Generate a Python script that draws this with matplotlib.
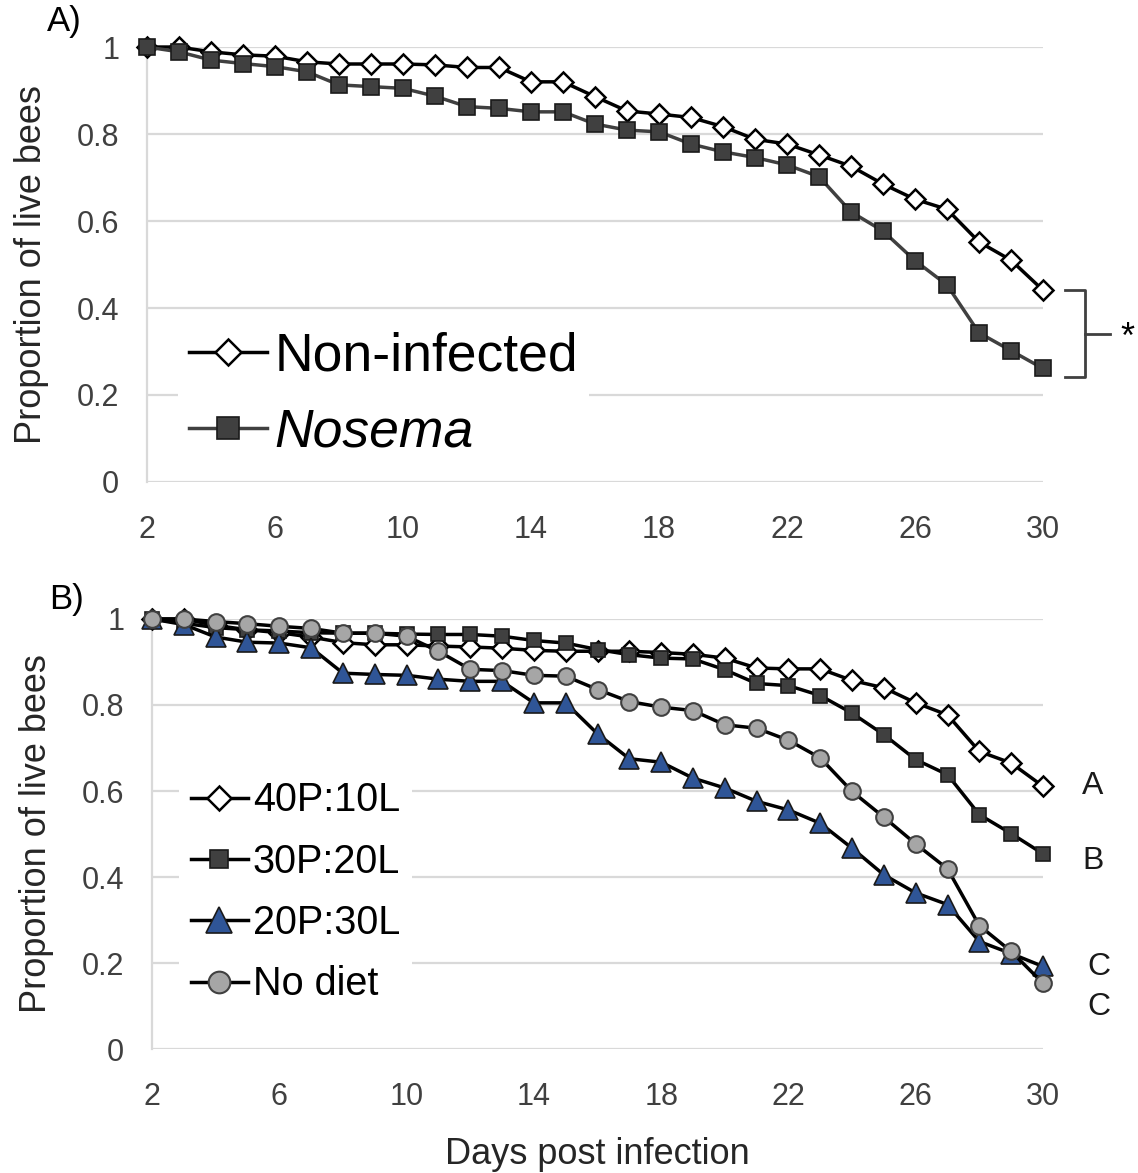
import matplotlib
matplotlib.use("Agg")
import matplotlib.pyplot as plt

plt.rcParams["font.family"] = "Liberation Sans"

days = list(range(2, 31))

# panel A: infection status
non_infected = [1.0, 1.0, 0.989, 0.982, 0.979, 0.966, 0.961, 0.961, 0.961, 0.959,
                0.953, 0.953, 0.920, 0.920, 0.886, 0.853, 0.846, 0.838, 0.817, 0.788,
                0.777, 0.752, 0.726, 0.685, 0.650, 0.627, 0.552, 0.510, 0.441]
nosema = [1.0, 0.989, 0.970, 0.962, 0.955, 0.943, 0.913, 0.909, 0.905, 0.887,
          0.863, 0.859, 0.851, 0.851, 0.823, 0.809, 0.805, 0.777, 0.759, 0.746,
          0.729, 0.702, 0.621, 0.577, 0.509, 0.453, 0.343, 0.302, 0.261]

# panel B: diet protein:lipid ratios
p40_l10 = [1.0, 1.0, 0.985, 0.975, 0.968, 0.958, 0.945, 0.940, 0.940, 0.937,
           0.935, 0.932, 0.927, 0.925, 0.925, 0.925, 0.922, 0.918, 0.909, 0.886,
           0.884, 0.884, 0.857, 0.840, 0.805, 0.777, 0.692, 0.665, 0.611]
p30_l20 = [1.0, 0.990, 0.980, 0.975, 0.972, 0.968, 0.967, 0.967, 0.965, 0.964,
           0.964, 0.960, 0.950, 0.944, 0.929, 0.917, 0.909, 0.907, 0.882, 0.850,
           0.845, 0.822, 0.781, 0.731, 0.673, 0.638, 0.545, 0.501, 0.454]
p20_l30 = [1.0, 0.987, 0.958, 0.946, 0.944, 0.933, 0.874, 0.871, 0.869, 0.860,
           0.855, 0.855, 0.805, 0.805, 0.733, 0.675, 0.667, 0.630, 0.607, 0.576,
           0.556, 0.525, 0.467, 0.405, 0.363, 0.336, 0.250, 0.222, 0.192]
no_diet = [1.0, 1.0, 0.994, 0.989, 0.983, 0.978, 0.967, 0.967, 0.960, 0.925,
           0.883, 0.880, 0.869, 0.867, 0.836, 0.808, 0.795, 0.787, 0.754, 0.746,
           0.718, 0.677, 0.599, 0.539, 0.477, 0.419, 0.287, 0.227, 0.153]

letters_b = ["A", "B", "C", "C"]

xticks = list(range(2, 31, 4))
yticks = [0, 0.2, 0.4, 0.6, 0.8, 1]
ytick_labels = ["0", "0.2", "0.4", "0.6", "0.8", "1"]

grid_col = "#d9d9d9"

fig = plt.figure(figsize=(11.38, 11.73), dpi=100)
axA = fig.add_axes([0.1292, 0.5891, 0.7873, 0.3708])
axB = fig.add_axes([0.1336, 0.1057, 0.7829, 0.3666])


def style_axis(ax):
    ax.set_xlim(2, 30)
    ax.set_ylim(0, 1)
    ax.set_xticks(xticks)
    ax.set_yticks(yticks)
    ax.set_yticklabels(ytick_labels)
    ax.tick_params(length=0, labelsize=22, colors="#404040", pad=20)
    ax.tick_params(axis="x", pad=24)
    ax.grid(axis="y", color=grid_col, lw=1.6, zorder=0)
    for s in ["top", "right", "bottom"]:
        ax.spines[s].set_visible(False)
    ax.spines["left"].set_color(grid_col)
    ax.spines["left"].set_linewidth(1.6)
    ax.set_ylabel("Proportion of live bees", fontsize=26, color="#262626", labelpad=20)


style_axis(axA)
style_axis(axB)

# --- A) infected vs non-infected
axA.plot(days, non_infected, color="black", lw=2.5, marker="D", ms=10,
         mfc="white", mec="black", mew=1.8, clip_on=False, zorder=3,
         label="Non-infected")
axA.plot(days, nosema, color="#404040", lw=2.5, marker="s", ms=11.5,
         mfc="#404040", mec="#1a1a1a", mew=1.2, clip_on=False, zorder=4,
         label="Nosema")
legA = axA.legend(loc="upper left", bbox_to_anchor=(0.035, 0.37), fontsize=38.5,
                  frameon=True, framealpha=1, edgecolor="none", facecolor="white",
                  handlelength=1.45, handletextpad=0.15, labelspacing=0.49,
                  borderpad=0.2, borderaxespad=0, markerscale=1.35)
legA.set_zorder(5)
legA.get_texts()[1].set_fontstyle("italic")

# significance bracket between final values
top = non_infected[-1]
bot = nosema[-1] - 0.02
mid = (top + bot) / 2
bx = [30.69, 31.31, 31.31, 30.69]
axA.plot(bx, [top, top, bot, bot], color="#404040", lw=2, clip_on=False)
axA.plot([31.31, 32.09], [mid, mid], color="#404040", lw=2, clip_on=False)
axA.text(32.65, mid - 0.01, "*", fontsize=26, ha="center", va="center", clip_on=False)

# --- B) diets
axB.plot(days, p40_l10, color="black", lw=2.5, marker="D", ms=9.7,
         mfc="white", mec="black", mew=1.8, clip_on=False, zorder=3,
         label="40P:10L")
axB.plot(days, p30_l20, color="black", lw=2.5, marker="s", ms=10.5,
         mfc="#404040", mec="#1a1a1a", mew=1.2, clip_on=False, zorder=4,
         label="30P:20L")
axB.plot(days, p20_l30, color="black", lw=2.5, marker="^", ms=14,
         mfc="#2f5597", mec="#1a1a1a", mew=1.2, clip_on=False, zorder=5,
         label="20P:30L")
axB.plot(days, no_diet, color="black", lw=2.5, marker="o", ms=12,
         mfc="#a6a6a6", mec="#404040", mew=1.5, clip_on=False, zorder=6,
         label="No diet")
legB = axB.legend(loc="upper left", bbox_to_anchor=(0.03, 0.65), fontsize=28.5,
                  frameon=True, framealpha=1, edgecolor="none", facecolor="white",
                  handlelength=1.45, handletextpad=0.12, labelspacing=0.59,
                  borderpad=0.3, borderaxespad=0, markerscale=1.3)
legB.set_zorder(7)

ends = [p40_l10[-1], p30_l20[-1], p20_l30[-1], no_diet[-1]]
offsets = [(36, 0), (36, -5), (40, -0.5), (40, -17)]
for lab, yv, off in zip(letters_b, ends, offsets):
    axB.annotate(lab, xy=(30, yv), xytext=off, textcoords="offset points",
                 fontsize=23, ha="center", va="center", color="#1a1a1a",
                 annotation_clip=False)

axB.set_xlabel("Days post infection", fontsize=26, color="#262626", labelpad=18)

fig.text(64 / 1138, 1 - 22 / 1173, "A)", fontsize=25, ha="center", va="center")
fig.text(66 / 1138, 1 - 600 / 1173, "B)", fontsize=25, ha="center", va="center")

fig.savefig("out.png", dpi=100, facecolor="white")
